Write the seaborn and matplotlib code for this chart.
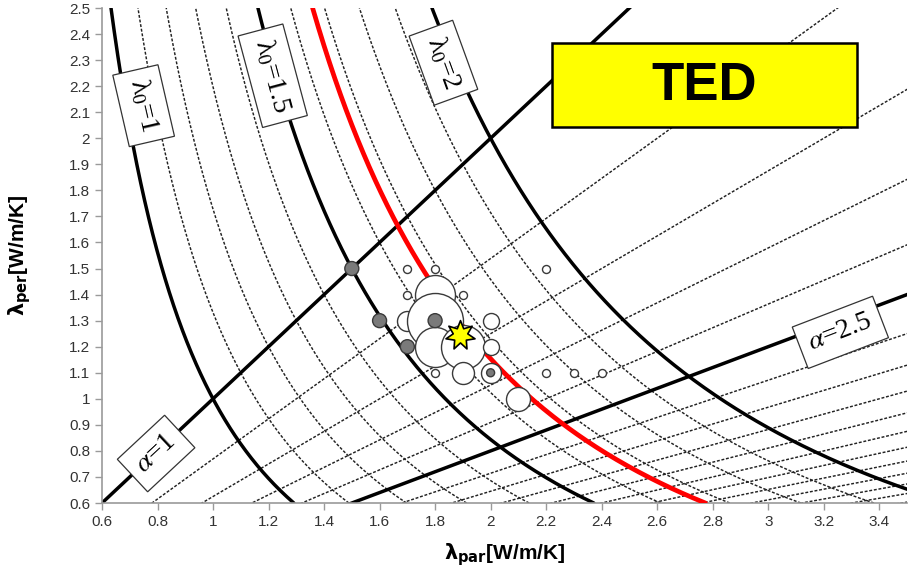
import numpy as np
import pandas as pd
import matplotlib
matplotlib.use("Agg")
import matplotlib.pyplot as plt
import seaborn as sns

# Iso-conductivity curves: lambda0 = (lambda_par^2 * lambda_per)^(1/3)
lam0_main = [1.0, 1.5, 2.0]
lam0_minor = [1.1, 1.2, 1.3, 1.4, 1.6, 1.7, 1.8, 1.9]
lam0_red = 1.665

# Anisotropy rays: alpha = lambda_par / lambda_per
alpha_main = [1.0, 2.5]
alpha_minor = [1.3, 1.6, 1.9, 2.2, 2.8, 3.1, 3.4, 3.7, 4.0, 4.3, 4.6, 4.9, 5.2, 5.5, 5.8]

# Measurements (open circles; bubble weight = relative sample count)
open_par = [1.7, 1.8, 1.8, 1.8, 1.9, 2.0, 2.0, 1.9, 2.0, 2.1,
            1.7, 1.8, 2.2, 1.7, 1.9, 1.8, 2.2, 2.3, 2.4]
open_per = [1.3, 1.4, 1.3, 1.2, 1.2, 1.3, 1.2, 1.1, 1.1, 1.0,
            1.5, 1.5, 1.5, 1.4, 1.4, 1.1, 1.1, 1.1, 1.1]
open_weight = [10, 20, 28, 20, 22, 8, 8, 11, 10, 12,
               4, 4, 4, 4, 4, 4, 4, 4, 4]

# Filled grey points
grey_par = [1.5, 1.6, 1.7, 1.8, 2.0]
grey_per = [1.5, 1.3, 1.2, 1.3, 1.1]
grey_weight = [7, 7, 7, 7, 4]

# TED result
ted_par = [1.89]
ted_per = [1.245]

xticks = [0.6, 0.8, 1, 1.2, 1.4, 1.6, 1.8, 2, 2.2, 2.4, 2.6, 2.8, 3, 3.2, 3.4]
yticks = [round(0.6 + 0.1 * i, 1) for i in range(20)]

sns.set_style("white")
plt.rcParams["font.family"] = ["Liberation Sans", "DejaVu Sans"]
plt.rcParams["text.color"] = "black"

fig = plt.figure(figsize=(9.09, 5.76), dpi=100)
ax = fig.add_axes([0.1122, 0.1267, 0.8856, 0.8594])

y_grid = np.linspace(0.6, 2.5, 400)
x_grid = np.linspace(0.0, 3.6, 400)


def iso_curve(l0):
    return pd.DataFrame({"x": np.sqrt(l0 ** 3 / y_grid), "y": y_grid})


def ray(a):
    return pd.DataFrame({"x": x_grid, "y": x_grid / a})


def draw(d, **kw):
    sns.lineplot(data=d, x="x", y="y", sort=False, estimator=None, ax=ax, **kw)


dot_style = dict(color="#222222", lw=1.05, linestyle=(0, (2.0, 1.2)), zorder=1)
for l0 in lam0_minor:
    draw(iso_curve(l0), **dot_style)
for a in alpha_minor:
    draw(ray(a), **dot_style)

for l0 in lam0_main:
    draw(iso_curve(l0), color="black", lw=2.5, zorder=2)
for a in alpha_main:
    draw(ray(a), color="black", lw=2.5, zorder=2)

draw(iso_curve(lam0_red), color="#ff0000", lw=3.4, zorder=3)

# bubbles
px_to_pt = 0.72
open_df = pd.DataFrame({"x": open_par, "y": open_per, "w": open_weight})
for _, r in open_df.iterrows():
    ax.scatter([r.x], [r.y], s=(2 * r.w * px_to_pt) ** 2, facecolor="white",
               edgecolor="#3a3a3a", linewidth=1.0, zorder=4)
grey_df = pd.DataFrame({"x": grey_par, "y": grey_per, "w": grey_weight})
sns.scatterplot(data=grey_df, x="x", y="y", size="w",
                sizes={w: (2 * w * px_to_pt) ** 2 for w in set(grey_weight)},
                color="#7a7a7a", edgecolor="#3a3a3a", linewidth=1.0,
                legend=False, ax=ax, zorder=5)
ted_df = pd.DataFrame({"x": ted_par, "y": ted_per})
sns.scatterplot(data=ted_df, x="x", y="y", marker=(7, 1, 0), s=460,
                color="#ffff00", edgecolor="black", linewidth=1.2,
                legend=False, ax=ax, zorder=6)

# curve labels
box = dict(boxstyle="square,pad=0.35", facecolor="white", edgecolor="#333333", linewidth=0.9)
label_kw = dict(family="Liberation Serif", math_fontfamily="stix", fontsize=20,
                ha="center", va="center", bbox=box, zorder=7, rotation_mode="anchor")
ax.text(0.75, 2.125, r"$\mathregular{\lambda_0}$=1", rotation=-77, **label_kw)
ax.text(1.215, 2.24, r"$\mathregular{\lambda_0}$=1.5", rotation=-75, **label_kw)
ax.text(1.83, 2.29, r"$\mathregular{\lambda_0}$=2", rotation=-70, **label_kw)
ax.text(0.795, 0.79, r"$\alpha$=1", rotation=43, **label_kw)
ax.text(3.26, 1.255, r"$\alpha$=2.5", rotation=21, **label_kw)

# title box
fig.patches.append(plt.Rectangle((552 / 909, 1 - 127 / 576), 305 / 909, 84 / 576,
                                 transform=fig.transFigure, facecolor="#ffff00",
                                 edgecolor="black", linewidth=1.8, zorder=7))
fig.text(704 / 909, 1 - 86 / 576, "TED", ha="center", va="center", fontsize=38,
         fontweight="bold", color="black", zorder=9)

ax.set_xlim(0.6, 3.5)
ax.set_ylim(0.6, 2.5)
ax.set_xticks(xticks)
ax.set_xticklabels([f"{t:g}" for t in xticks])
ax.set_yticks(yticks)
ax.set_yticklabels([f"{t:g}" for t in yticks])
ax.tick_params(axis="both", labelsize=11, labelcolor="#333333", color="#9a9a9a",
               length=5, width=1, direction="out", bottom=True, left=True)
for s in ["top", "right"]:
    ax.spines[s].set_visible(False)
for s in ["left", "bottom"]:
    ax.spines[s].set_color("#9a9a9a")
    ax.spines[s].set_linewidth(1.2)

ax.set_xlabel(r"$\mathbf{\lambda_{par}}$[W/m/K]", fontsize=15, fontweight="bold",
              math_fontfamily="dejavusans", labelpad=9, color="black")
ax.set_ylabel(r"$\mathbf{\lambda_{per}}$[W/m/K]", fontsize=15, fontweight="bold",
              math_fontfamily="dejavusans", labelpad=26, color="black")

fig.savefig("out.png", dpi=100)
